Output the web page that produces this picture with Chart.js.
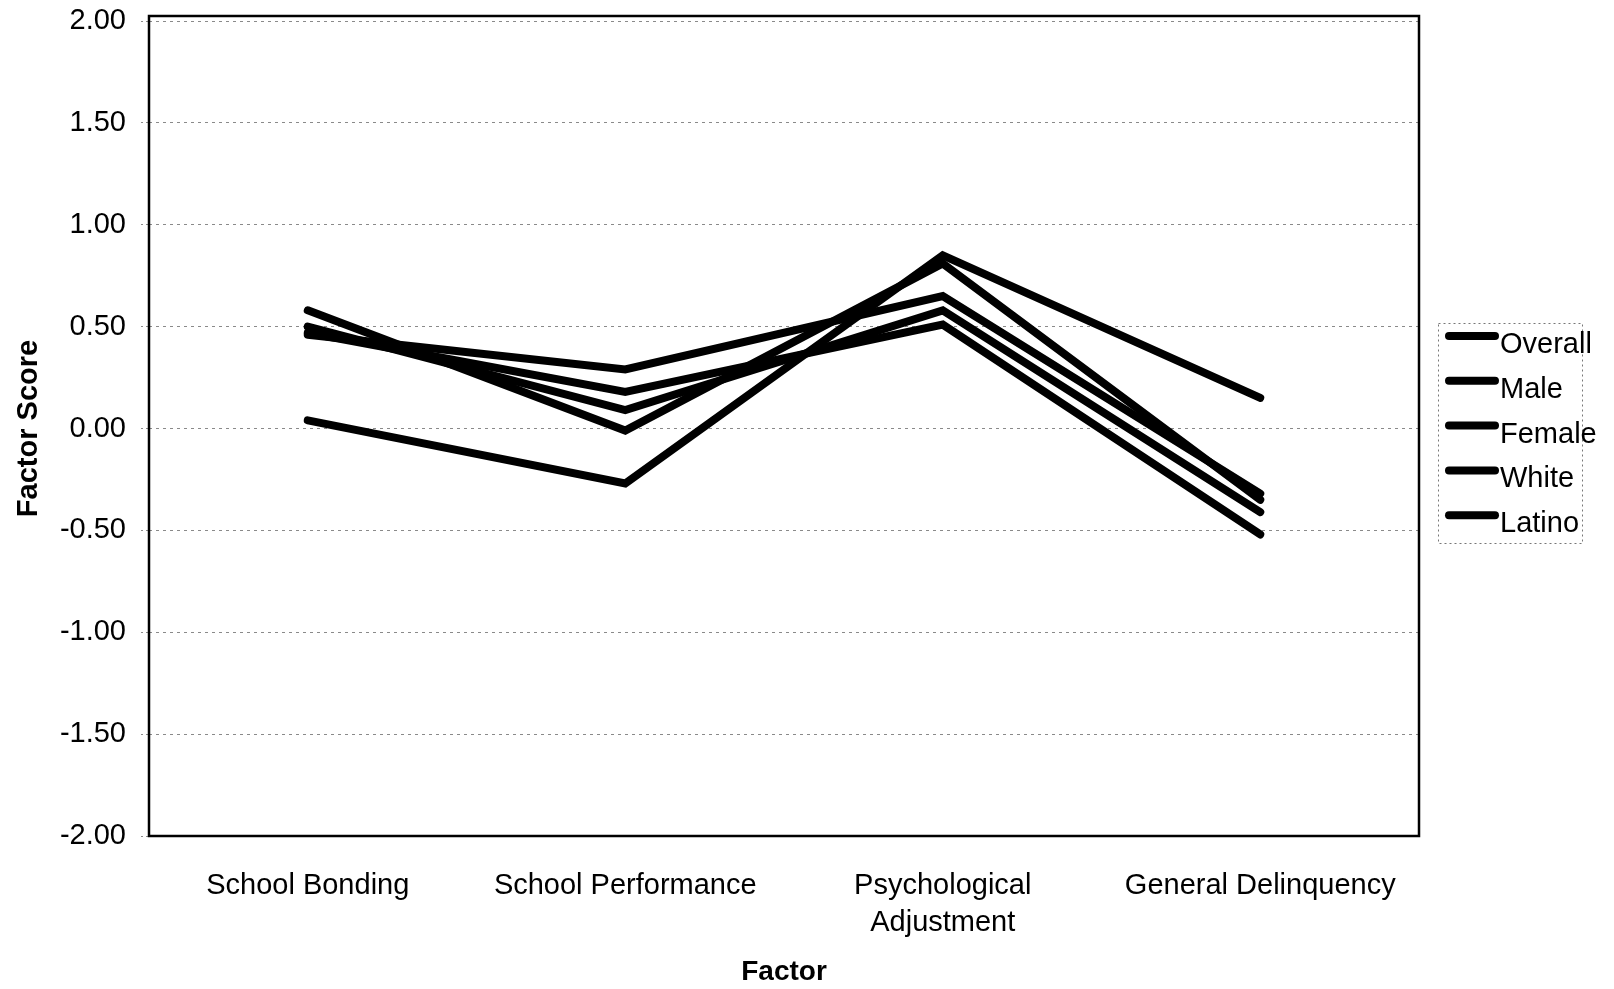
<!DOCTYPE html>
<html>
<head>
<meta charset="utf-8">
<script src="https://cdn.jsdelivr.net/npm/chart.js@4.4.1/dist/chart.umd.min.js"></script>
<style>
  html, body { margin: 0; padding: 0; background: #fff; }
  canvas { display: block; }
</style>
</head>
<body>
<canvas id="chart" width="1614" height="989"></canvas>
<script>
// Factor scores by group
const factors = ['School Bonding', 'School Performance', ['Psychological', 'Adjustment'], 'General Delinquency'];
const groups = ['Overall', 'Male', 'Female', 'White', 'Latino'];
const overall = [0.50, 0.09, 0.58, -0.41];
const male    = [0.58, -0.01, 0.81, -0.35];
const female  = [0.47, 0.18, 0.51, -0.52];
const white   = [0.46, 0.29, 0.65, -0.32];
const latino  = [0.04, -0.27, 0.85, 0.15];
const seriesValues = [overall, male, female, white, latino];

// Value axis
const yMin = -2, yMax = 2, yStep = 0.5;

const FONT = '"Liberation Sans", Arial, Helvetica, sans-serif';
Chart.defaults.font.family = FONT;
Chart.defaults.color = '#000';

// Black frame around the plotting area (top edge sits a little above the 2.00 line)
const framePlugin = {
  id: 'frame',
  beforeDatasetsDraw(chart) {
    const { ctx, chartArea: a } = chart;
    const top = a.top - 5;
    ctx.save();
    ctx.strokeStyle = '#000';
    ctx.lineWidth = 2.5;
    ctx.strokeRect(a.left, top, a.right - a.left, a.bottom - top);
    ctx.restore();
  }
};

// Boxed legend to the right of the plot
const sideLegend = {
  id: 'sideLegend',
  afterDraw(chart) {
    const { ctx } = chart;
    const box = { x: 1438, y: 323, w: 144, h: 220 };
    ctx.save();
    ctx.strokeStyle = '#777';
    ctx.lineWidth = 1;
    ctx.setLineDash([2, 3]);
    ctx.strokeRect(box.x + 0.5, box.y + 0.5, box.w, box.h);
    ctx.setLineDash([]);
    ctx.font = '29px ' + FONT;
    ctx.textBaseline = 'middle';
    ctx.textAlign = 'left';
    chart.data.datasets.forEach((ds, i) => {
      const cy = 344 + i * 44.8;
      ctx.strokeStyle = ds.borderColor;
      ctx.lineWidth = ds.borderWidth;
      ctx.lineCap = 'round';
      ctx.beginPath();
      ctx.moveTo(1449, cy - 8);
      ctx.lineTo(1495, cy - 8);
      ctx.stroke();
      ctx.fillStyle = '#000';
      ctx.fillText(ds.label, 1500, cy + 1);
    });
    ctx.restore();
  }
};

new Chart(document.getElementById('chart'), {
  type: 'line',
  data: {
    labels: factors,
    datasets: groups.map((g, i) => ({
      label: g,
      data: seriesValues[i],
      borderColor: '#000',
      backgroundColor: '#000',
      borderWidth: 8,
      borderCapStyle: 'round',
      borderJoinStyle: 'miter',
      pointRadius: 0,
      pointHoverRadius: 0,
      tension: 0,
      fill: false
    }))
  },
  options: {
    responsive: false,
    animation: false,
    devicePixelRatio: 1,
    layout: { padding: { top: 21, right: 195, bottom: 0, left: 0 } },
    plugins: {
      legend: { display: false },
      tooltip: { enabled: false }
    },
    scales: {
      x: {
        offset: true,
        grid: { display: false, drawTicks: false },
        border: { display: false },
        ticks: {
          padding: 32,
          maxRotation: 0,
          autoSkip: false,
          font: { size: 29, lineHeight: 1.27 }
        },
        title: {
          display: true,
          text: 'Factor',
          font: { size: 28, weight: 'bold' },
          padding: { top: 0, bottom: 0 }
        },
        afterFit(scale) { scale.height = 153; }
      },
      y: {
        min: yMin,
        max: yMax,
        grid: {
          color: '#8a8a8a',
          lineWidth: 1,
          drawTicks: true,
          tickLength: 8,
          tickColor: '#8a8a8a',
          tickBorderDash: [2, 3]
        },
        border: { display: false, dash: [3, 4] },
        ticks: {
          stepSize: yStep,
          padding: 15,
          font: { size: 29 },
          callback: (v) => Number(v).toFixed(2)
        },
        title: {
          display: true,
          text: 'Factor Score',
          font: { size: 29, weight: 'bold' },
          padding: { top: 12, bottom: 0 }
        },
        afterFit(scale) {
          scale.width = 149;
          scale.paddingTop = 0;
          scale.paddingBottom = 0;
        }
      }
    }
  },
  plugins: [framePlugin, sideLegend]
});
</script>
</body>
</html>
